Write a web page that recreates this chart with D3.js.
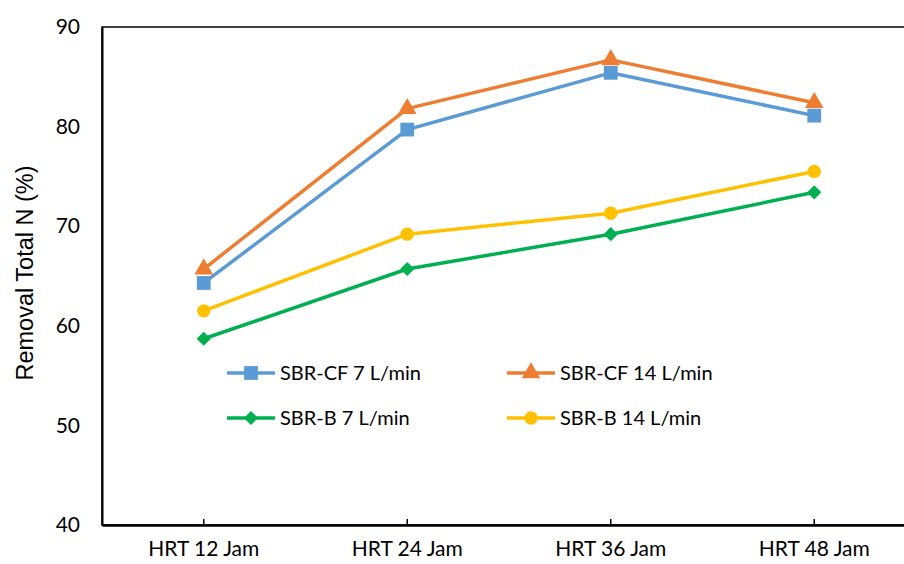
<!DOCTYPE html>
<html>
<head>
<meta charset="utf-8">
<script src="https://cdn.jsdelivr.net/npm/d3@7"></script>
<style>
  body { margin: 0; background: #fff; }
  svg { display: block; font-family: Lato, "Open Sans", sans-serif; }
</style>
</head>
<body>
<svg id="chart"></svg>
<script>
// categories and series
const categories = ["HRT 12 Jam", "HRT 24 Jam", "HRT 36 Jam", "HRT 48 Jam"];
const cf7 = [64.3, 79.7, 85.4, 81.1];
const cf14 = [65.7, 81.8, 86.7, 82.4];
const b7 = [58.7, 65.7, 69.2, 73.4];
const b14 = [61.5, 69.2, 71.3, 75.5];
const yTicks = [40, 50, 60, 70, 80, 90];

// diamond as a square turned 45 degrees
const wideDiamond = {
    draw(ctx, size) {
        const r = Math.sqrt(size / 2);
        ctx.moveTo(0, -r);
        ctx.lineTo(r, 0);
        ctx.lineTo(0, r);
        ctx.lineTo(-r, 0);
        ctx.closePath();
    }
};

const series = [
    { name: "SBR-CF 7 L/min", values: cf7, color: "#5B9BD5", symbol: d3.symbolSquare, size: 190 },
    { name: "SBR-CF 14 L/min", values: cf14, color: "#ED7D31", symbol: d3.symbolTriangle, size: 150 },
    { name: "SBR-B 7 L/min", values: b7, color: "#00B050", symbol: wideDiamond, size: 100 },
    { name: "SBR-B 14 L/min", values: b14, color: "#FFC000", symbol: d3.symbolCircle, size: 140 }
];

const width = 904, height = 564;
const marginTop = 27, marginRight = -12, marginBottom = 39, marginLeft = 102;

const svg = d3.select("#chart")
    .attr("width", width)
    .attr("height", height)
    .attr("viewBox", [0, 0, width, height]);

const x = d3.scaleBand()
    .domain(categories)
    .range([marginLeft, width - marginRight]);

const y = d3.scaleLinear()
    .domain([40, 90])
    .range([height - marginBottom, marginTop]);

// plot frame (right side falls outside the window)
svg.append("rect")
    .attr("x", marginLeft)
    .attr("y", marginTop)
    .attr("width", width - marginRight - marginLeft)
    .attr("height", height - marginBottom - marginTop)
    .attr("fill", "none")
    .attr("stroke", "#000")
    .attr("stroke-width", 1.5);

// x axis, ticks pointing inward
svg.append("g")
    .attr("transform", `translate(0,${height - marginBottom})`)
    .call(d3.axisBottom(x).tickSizeInner(-6).tickSizeOuter(0).tickPadding(16))
    .call(g => g.select(".domain").attr("stroke-width", 2.5))
    .call(g => g.selectAll(".tick line").attr("stroke-width", 1.5))
    .call(g => g.selectAll(".tick text").attr("font-size", 21).attr("fill", "#000").attr("font-family", "Lato"));

// y axis, labels only
svg.append("g")
    .attr("transform", `translate(${marginLeft},0)`)
    .call(d3.axisLeft(y).tickValues(yTicks).tickSize(0).tickPadding(22))
    .call(g => g.select(".domain").attr("stroke-width", 2))
    .call(g => g.selectAll(".tick text").attr("font-size", 21).attr("fill", "#000").attr("font-family", "Lato"));

svg.append("text")
    .attr("transform", "translate(33,273) rotate(-90)")
    .attr("text-anchor", "middle")
    .attr("font-family", "'Liberation Sans', Arial, sans-serif")
    .attr("font-size", 23.5)
    .text("Removal Total N (%)");

const line = d3.line()
    .x((d, i) => x(categories[i]) + x.bandwidth() / 2)
    .y(d => y(d));

const groups = svg.append("g")
    .selectAll("g")
    .data(series)
    .join("g");

groups.append("path")
    .attr("d", d => line(d.values))
    .attr("fill", "none")
    .attr("stroke", d => d.color)
    .attr("stroke-width", 3.5)
    .attr("stroke-linejoin", "round");

groups.selectAll("path.marker")
    .data(d => d.values.map((v, i) => ({ v, i, s: d })))
    .join("path")
    .attr("class", "marker")
    .attr("transform", d => `translate(${x(categories[d.i]) + x.bandwidth() / 2},${y(d.v)})`)
    .attr("d", d => d3.symbol(d.s.symbol, d.s.size)())
    .attr("fill", d => d.s.color);

// legend, two columns
const legendPos = [[227, 373], [507, 373], [227, 418], [507, 418]];
const legend = svg.append("g")
    .selectAll("g")
    .data(series)
    .join("g")
    .attr("transform", (d, i) => `translate(${legendPos[i][0]},${legendPos[i][1]})`);

legend.append("line")
    .attr("x1", 0).attr("x2", 48)
    .attr("stroke", d => d.color)
    .attr("stroke-width", 3.5);

legend.append("path")
    .attr("transform", "translate(24,0)")
    .attr("d", d => d3.symbol(d.symbol, d.size)())
    .attr("fill", d => d.color);

legend.append("text")
    .attr("x", 53)
    .attr("dy", "0.35em")
    .attr("font-size", 20)
    .text(d => d.name);
</script>
</body>
</html>
